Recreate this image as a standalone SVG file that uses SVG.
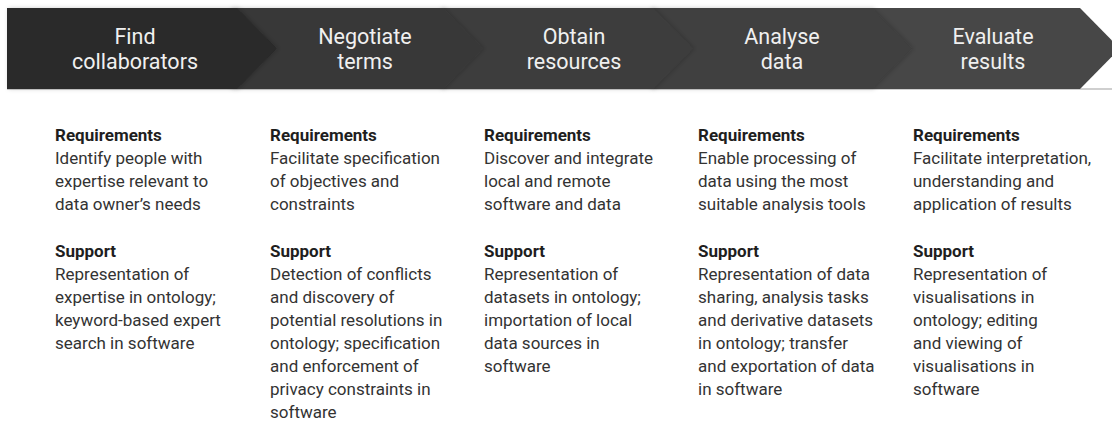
<svg xmlns="http://www.w3.org/2000/svg" width="1112" height="424" viewBox="0 0 1112 424">
<style>
.hd{font-family:Roboto,"Liberation Sans",sans-serif;font-size:21.5px;fill:#f0f0f0;text-anchor:middle}
.b{font-family:Roboto,"Liberation Sans",sans-serif;font-size:17px;fill:#333}
.b .t{font-weight:bold;fill:#1e1e1e}
</style>
<defs>
<filter id="sh" x="-5%" y="-10%" width="115%" height="130%">
<feDropShadow dx="1.5" dy="0" stdDeviation="2" flood-color="#000" flood-opacity="0.2"/>
</filter>
</defs>
<rect x="7" y="88" width="1105" height="2" fill="#cfcfcf"/>
<g id="stage5">
<polygon points="860,8 1080,8 1120,48.5 1080,89 860,89" fill="#474747"/>
<text class="hd"><tspan x="993" y="44">Evaluate</tspan><tspan x="993" y="69">results</tspan></text>
</g>
<g id="stage4">
<polygon points="650,8 872,8 912,48.5 872,89 650,89" fill="#3f3f3f" filter="url(#sh)"/>
<text class="hd"><tspan x="782" y="44">Analyse</tspan><tspan x="782" y="69">data</tspan></text>
</g>
<g id="stage3">
<polygon points="440,8 653,8 693,48.5 653,89 440,89" fill="#3d3d3d" filter="url(#sh)"/>
<text class="hd"><tspan x="574" y="44">Obtain</tspan><tspan x="574" y="69">resources</tspan></text>
</g>
<g id="stage2">
<polygon points="230,8 443,8 483,48.5 443,89 230,89" fill="#393939" filter="url(#sh)"/>
<text class="hd"><tspan x="365" y="44">Negotiate</tspan><tspan x="365" y="69">terms</tspan></text>
</g>
<g id="stage1">
<polygon points="7,8 237,8 277,48.5 237,89 7,89" fill="#2b2b2b" filter="url(#sh)"/>
<text class="hd"><tspan x="135" y="44">Find</tspan><tspan x="135" y="69">collaborators</tspan></text>
</g>
<g id="col1">
<text class="b"><tspan class="t" x="55" y="141">Requirements</tspan><tspan x="55" y="164">Identify people with</tspan><tspan x="55" y="187">expertise relevant to</tspan><tspan x="55" y="210">data owner’s needs</tspan><tspan class="t" x="55" y="257">Support</tspan><tspan x="55" y="280">Representation of</tspan><tspan x="55" y="303">expertise in ontology;</tspan><tspan x="55" y="326">keyword-based expert</tspan><tspan x="55" y="349">search in software</tspan></text>
</g>
<g id="col2">
<text class="b"><tspan class="t" x="270" y="141">Requirements</tspan><tspan x="270" y="164">Facilitate specification</tspan><tspan x="270" y="187">of objectives and</tspan><tspan x="270" y="210">constraints</tspan><tspan class="t" x="270" y="257">Support</tspan><tspan x="270" y="280">Detection of conflicts</tspan><tspan x="270" y="303">and discovery of</tspan><tspan x="270" y="326">potential resolutions in</tspan><tspan x="270" y="349">ontology; specification</tspan><tspan x="270" y="372">and enforcement of</tspan><tspan x="270" y="395">privacy constraints in</tspan><tspan x="270" y="418">software</tspan></text>
</g>
<g id="col3">
<text class="b"><tspan class="t" x="484" y="141">Requirements</tspan><tspan x="484" y="164">Discover and integrate</tspan><tspan x="484" y="187">local and remote</tspan><tspan x="484" y="210">software and data</tspan><tspan class="t" x="484" y="257">Support</tspan><tspan x="484" y="280">Representation of</tspan><tspan x="484" y="303">datasets in ontology;</tspan><tspan x="484" y="326">importation of local</tspan><tspan x="484" y="349">data sources in</tspan><tspan x="484" y="372">software</tspan></text>
</g>
<g id="col4">
<text class="b"><tspan class="t" x="698" y="141">Requirements</tspan><tspan x="698" y="164">Enable processing of</tspan><tspan x="698" y="187">data using the most</tspan><tspan x="698" y="210">suitable analysis tools</tspan><tspan class="t" x="698" y="257">Support</tspan><tspan x="698" y="280">Representation of data</tspan><tspan x="698" y="303">sharing, analysis tasks</tspan><tspan x="698" y="326">and derivative datasets</tspan><tspan x="698" y="349">in ontology; transfer</tspan><tspan x="698" y="372">and exportation of data</tspan><tspan x="698" y="395">in software</tspan></text>
</g>
<g id="col5">
<text class="b"><tspan class="t" x="913" y="141">Requirements</tspan><tspan x="913" y="164">Facilitate interpretation,</tspan><tspan x="913" y="187">understanding and</tspan><tspan x="913" y="210">application of results</tspan><tspan class="t" x="913" y="257">Support</tspan><tspan x="913" y="280">Representation of</tspan><tspan x="913" y="303">visualisations in</tspan><tspan x="913" y="326">ontology; editing</tspan><tspan x="913" y="349">and viewing of</tspan><tspan x="913" y="372">visualisations in</tspan><tspan x="913" y="395">software</tspan></text>
</g>
</svg>
